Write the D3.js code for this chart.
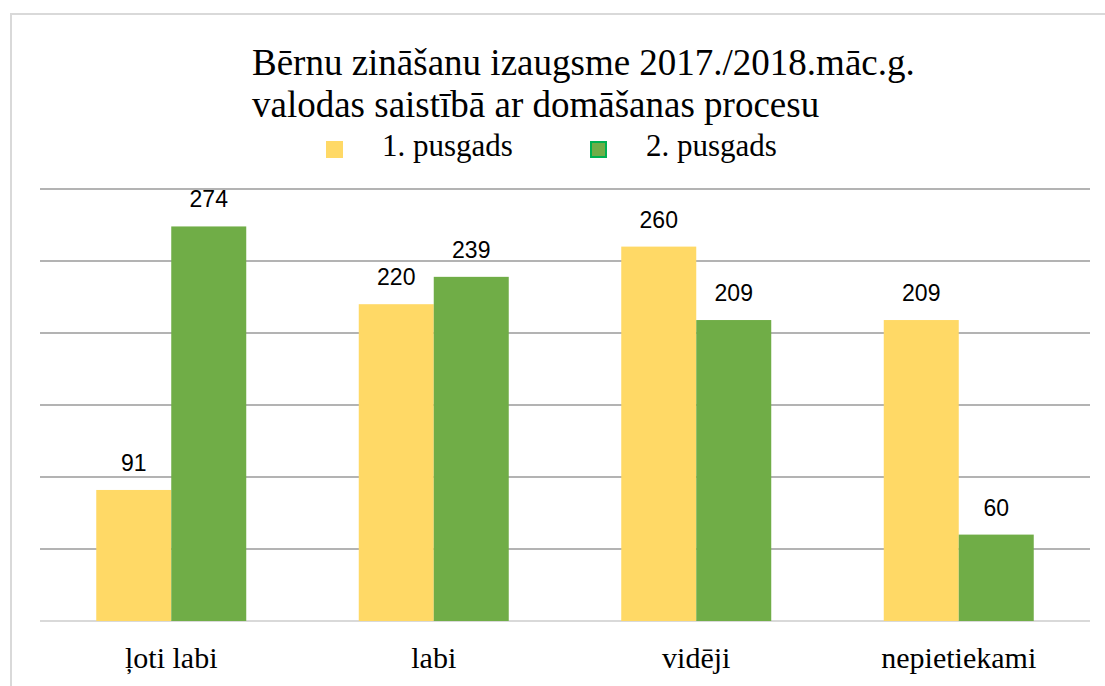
<!DOCTYPE html>
<html>
<head>
<meta charset="utf-8">
<script src="https://cdn.jsdelivr.net/npm/d3@7"></script>
<style>
  body { margin: 0; background: #fff; }
  .serif { font-family: "Liberation Serif", "Times New Roman", Times, serif; }
  .sans { font-family: "Liberation Sans", Arial, sans-serif; }
</style>
</head>
<body>
<div id="chart"></div>
<script>
// data
var categories = ["ļoti labi", "labi", "vidēji", "nepietiekami"];
var seriesNames = ["1. pusgads", "2. pusgads"];
var firstHalf = [91, 220, 260, 209];
var secondHalf = [274, 239, 209, 60];
var titleLines = ["Bērnu zināšanu izaugsme 2017./2018.māc.g.", "valodas saistībā ar domāšanas procesu"];
var yTicks = [0, 50, 100, 150, 200, 250, 300];

function init(){
    var w = 1105, h = 686;
    var colours = ["#FFD966", "#70AD47"];

    var svg = d3.select("#chart")
                .append("svg")
                .attr("width", w)
                .attr("height", h);

    // chart area border (runs off the right and bottom edge)
    svg.append("rect")
        .attr("x", 11).attr("y", 14)
        .attr("width", 1200).attr("height", 800)
        .attr("fill", "none")
        .attr("stroke", "#d9d9d9")
        .attr("stroke-width", 2);

    var x = d3.scaleBand()
              .domain(categories)
              .range([40, 1090])
              .paddingInner(0.4286)
              .paddingOuter(0.2143);
    var x1 = d3.scaleBand()
               .domain([0, 1])
               .range([0, x.bandwidth()]);
    var y = d3.scaleLinear()
              .domain([0, 300])
              .range([621, 189]);

    // gridlines
    svg.selectAll("line.grid")
        .data(yTicks)
        .enter()
        .append("line")
        .attr("class", "grid")
        .attr("x1", 40).attr("x2", 1090)
        .attr("y1", function(d){ return y(d); })
        .attr("y2", function(d){ return y(d); })
        .attr("stroke", function(d){ return d == 0 ? "#d9d9d9" : "#b3b3b3"; })
        .attr("stroke-width", 2);

    var rows = categories.map(function(c, i){
        return {cat: c, vals: [firstHalf[i], secondHalf[i]]};
    });

    var groups = svg.selectAll("g.cat")
        .data(rows)
        .enter()
        .append("g")
        .attr("class", "cat")
        .attr("transform", function(d){ return "translate(" + x(d.cat) + ",0)"; });

    groups.selectAll("rect")
        .data(function(d){ return d.vals; })
        .enter()
        .append("rect")
        .attr("x", function(d, i){ return x1(i); })
        .attr("y", function(d){ return y(d); })
        .attr("width", x1.bandwidth())
        .attr("height", function(d){ return y(0) - y(d); })
        .attr("fill", function(d, i){ return colours[i]; });

    // value labels
    groups.selectAll("text.val")
        .data(function(d){ return d.vals; })
        .enter()
        .append("text")
        .attr("class", "val sans")
        .attr("x", function(d, i){ return x1(i) + x1.bandwidth() / 2; })
        .attr("y", function(d){ return y(d) - 19; })
        .attr("text-anchor", "middle")
        .style("font-size", "23px")
        .style("fill", "#000")
        .text(function(d){ return d; });

    // category labels
    svg.selectAll("text.catlab")
        .data(categories)
        .enter()
        .append("text")
        .attr("class", "catlab serif")
        .attr("x", function(d){ return x(d) + x.bandwidth() / 2; })
        .attr("y", 668)
        .attr("text-anchor", "middle")
        .style("font-size", "30px")
        .text(function(d){ return d; });

    // title
    svg.selectAll("text.title")
        .data(titleLines)
        .enter()
        .append("text")
        .attr("class", "title serif")
        .attr("x", 252)
        .attr("y", function(d, i){ return 75 + i * 42; })
        .style("font-size", "37px")
        .text(function(d){ return d; });

    // legend
    var legX = [326, 590];
    var leg = svg.selectAll("g.leg")
        .data(seriesNames)
        .enter()
        .append("g")
        .attr("class", "leg")
        .attr("transform", function(d, i){ return "translate(" + legX[i] + ",141)"; });
    leg.append("rect")
        .attr("x", function(d, i){ return i ? 1 : 0; })
        .attr("y", function(d, i){ return i ? 1 : 0; })
        .attr("width", function(d, i){ return i ? 15 : 17; })
        .attr("height", function(d, i){ return i ? 15 : 17; })
        .attr("fill", function(d, i){ return colours[i]; })
        .attr("stroke", function(d, i){ return i ? "#00B050" : "none"; })
        .attr("stroke-width", 2);
    leg.append("text")
        .attr("class", "serif")
        .attr("x", 56)
        .attr("y", 15)
        .style("font-size", "31px")
        .text(function(d){ return d; });
}
window.onload = init;
</script>
</body>
</html>
